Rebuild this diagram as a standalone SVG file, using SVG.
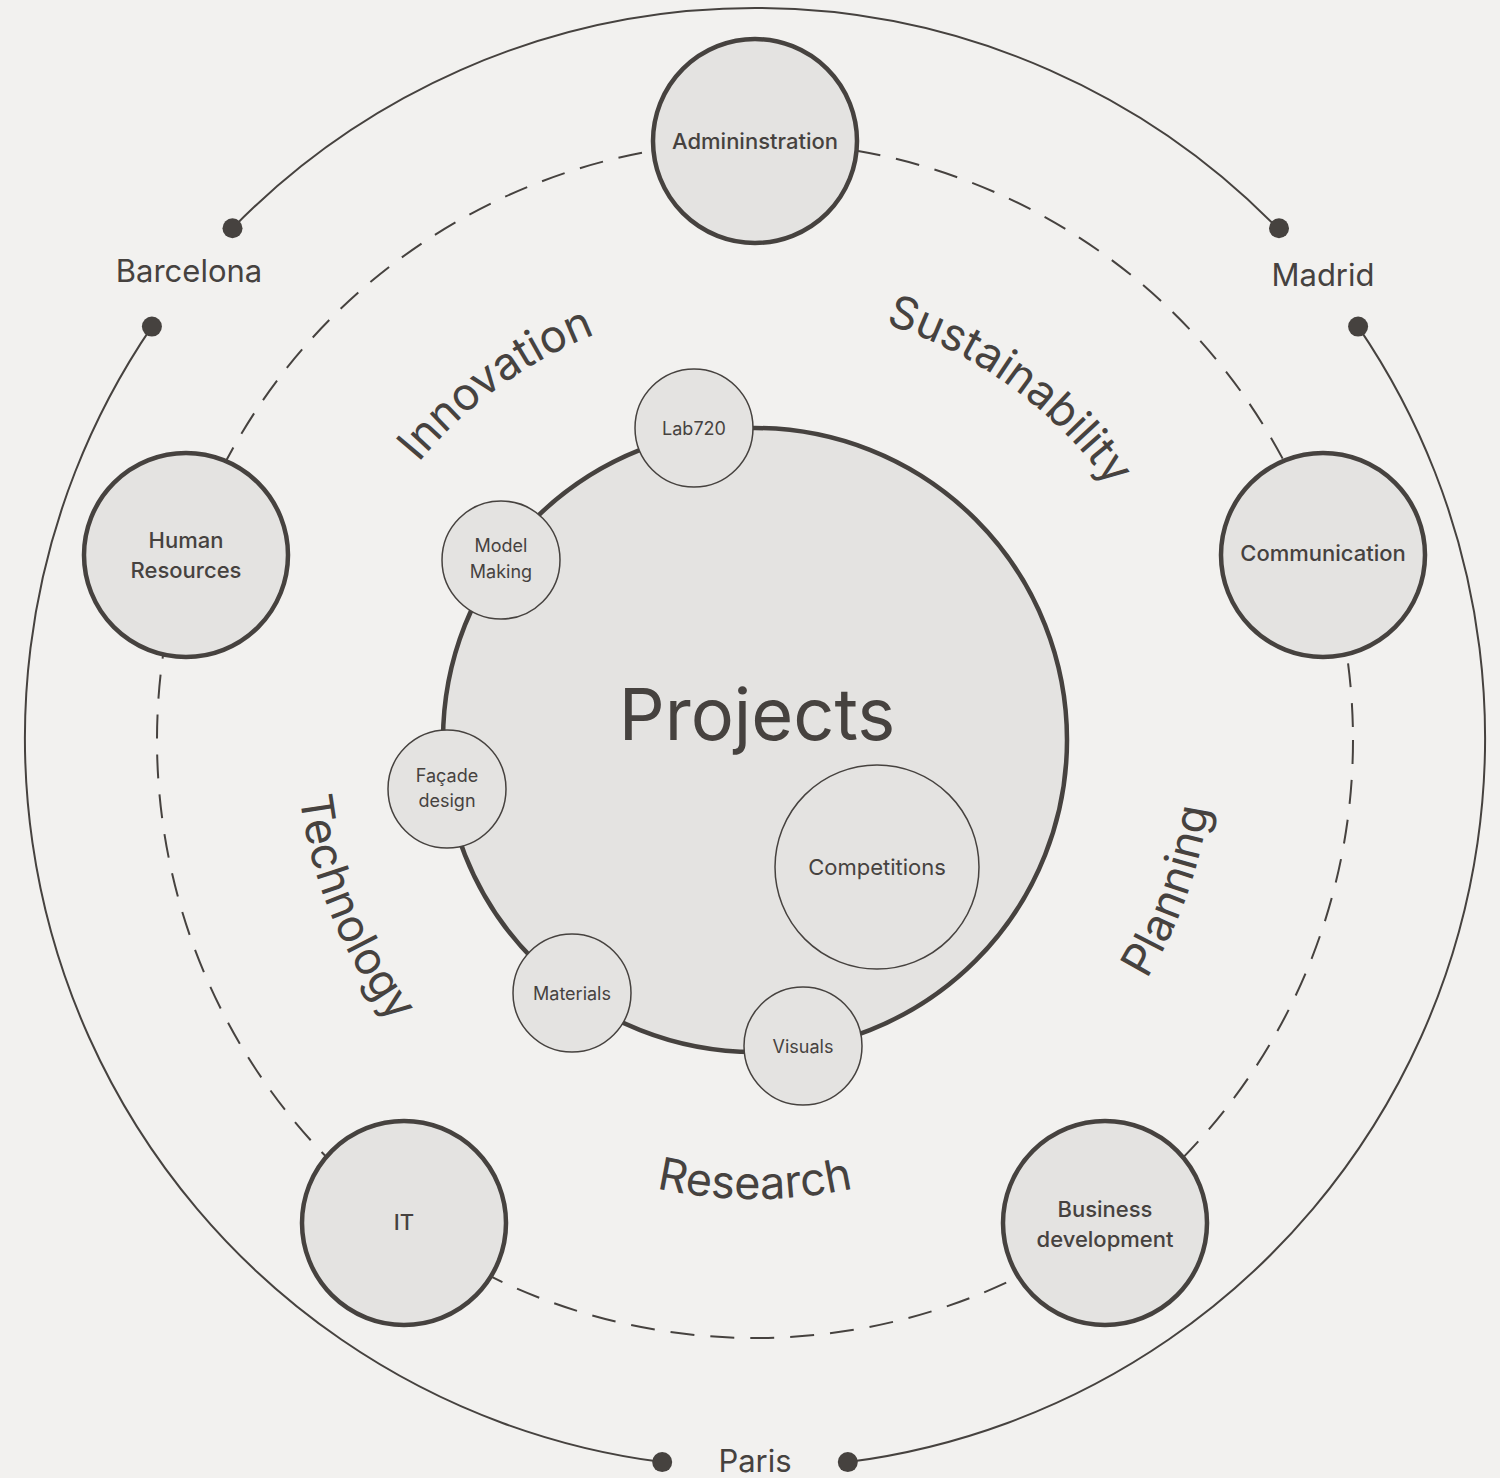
<svg xmlns="http://www.w3.org/2000/svg" width="1500" height="1478" viewBox="0 0 1500 1478">
<defs>
<style>
text{font-family:Inter,"Noto Sans","Liberation Sans",sans-serif;fill:#46423f;text-anchor:middle}
.bg{fill:#f2f1ef}
.ring{fill:none;stroke:#46423f;stroke-width:2}
.dash{fill:none;stroke:#46423f;stroke-width:2;stroke-dasharray:24 16}
.dot{fill:#46423f}
.node{fill:#e4e3e1;stroke:#46423f;stroke-width:4.5}
.sat{fill:#e4e3e1;stroke:#46423f;stroke-width:1.5}
.lbl{font-size:22px;font-weight:500}
.cmp{font-size:22px}
.sm{font-size:18px}
.city{font-size:31px}
.arc{font-size:45px}
.guide{fill:none;stroke:none}
</style>
<path id="pInno" class="guide" d="M324.4,671.8 A436,436 0 0 1 823.2,309.4"/>
<path id="pSust" class="guide" d="M686.8,309.4 A436,436 0 0 1 1185.6,671.8"/>
<path id="pRes" class="guide" d="M430.4,1064.6 A459,459 0 0 0 1079.6,1064.6"/>
<path id="pTech" class="guide" d="M330.4,566.1 A459,459 0 0 0 579.0,1163.7"/>
<path id="pPlan" class="guide" d="M949.0,1156.0 A459,459 0 0 0 1171.0,546.0"/>
</defs>
<rect class="bg" x="0" y="0" width="1500" height="1478"/>
<g id="connectors">
<path class="ring" d="M232.5,228.2 A730,730 0 0 1 1277.5,228.2"/>
<path class="ring" d="M1358.1,326.6 A730,730 0 0 1 847.8,1462.1"/>
<path class="ring" d="M662.2,1462.1 A730,730 0 0 1 151.9,326.6"/>
<circle class="dot" cx="232.5" cy="228.2" r="10"/>
<circle class="dot" cx="1279" cy="228.2" r="10"/>
<circle class="dot" cx="151.9" cy="326.6" r="10"/>
<circle class="dot" cx="1358.1" cy="326.6" r="10"/>
<circle class="dot" cx="662.2" cy="1462.1" r="10"/>
<circle class="dot" cx="847.8" cy="1462.1" r="10"/>
<circle class="dash" cx="755" cy="740" r="598"/>
</g>
<g id="cities">
<text class="city" x="189" y="282">Barcelona</text>
<text class="city" x="1323" y="286">Madrid</text>
<text class="city" x="755" y="1472">Paris</text>
</g>
<g id="themes">
<text class="arc"><textPath href="#pInno" startOffset="50%">Innovation</textPath></text>
<text class="arc"><textPath href="#pSust" startOffset="50%">Sustainability</textPath></text>
<text class="arc"><textPath href="#pRes" startOffset="50%">Research</textPath></text>
<text class="arc"><textPath href="#pTech" startOffset="50%">Technology</textPath></text>
<text class="arc"><textPath href="#pPlan" startOffset="50%">Planning</textPath></text>
</g>
<g id="projects">
<circle class="node" cx="755" cy="740" r="312"/>
<text x="757" y="740" style="font-size:72px">Projects</text>
</g>
<g id="competitions">
<circle class="sat" cx="877" cy="867" r="102"/>
<text class="cmp" x="877" y="875">Competitions</text>
</g>
<g id="lab720">
<circle class="sat" cx="694" cy="428" r="59"/>
<text class="sm" x="694" y="435">Lab720</text>
</g>
<g id="model-making">
<circle class="sat" cx="501" cy="560" r="59"/>
<text class="sm" x="501" y="552">Model</text>
<text class="sm" x="501" y="578">Making</text>
</g>
<g id="facade-design">
<circle class="sat" cx="447" cy="789" r="59"/>
<text class="sm" x="447" y="782">Façade</text>
<text class="sm" x="447" y="807">design</text>
</g>
<g id="materials">
<circle class="sat" cx="572" cy="993" r="59"/>
<text class="sm" x="572" y="1000">Materials</text>
</g>
<g id="visuals">
<circle class="sat" cx="803" cy="1046" r="59"/>
<text class="sm" x="803" y="1053">Visuals</text>
</g>
<g id="administration">
<circle class="node" cx="755" cy="141" r="102"/>
<text class="lbl" x="755" y="149">Admininstration</text>
</g>
<g id="human-resources">
<circle class="node" cx="186" cy="555" r="102"/>
<text class="lbl" x="186" y="548">Human</text>
<text class="lbl" x="186" y="578">Resources</text>
</g>
<g id="communication">
<circle class="node" cx="1323" cy="555" r="102"/>
<text class="lbl" x="1323" y="561">Communication</text>
</g>
<g id="it">
<circle class="node" cx="404" cy="1223" r="102"/>
<text class="lbl" x="404" y="1230">IT</text>
</g>
<g id="business-development">
<circle class="node" cx="1105" cy="1223" r="102"/>
<text class="lbl" x="1105" y="1217">Business</text>
<text class="lbl" x="1105" y="1247">development</text>
</g>
</svg>
